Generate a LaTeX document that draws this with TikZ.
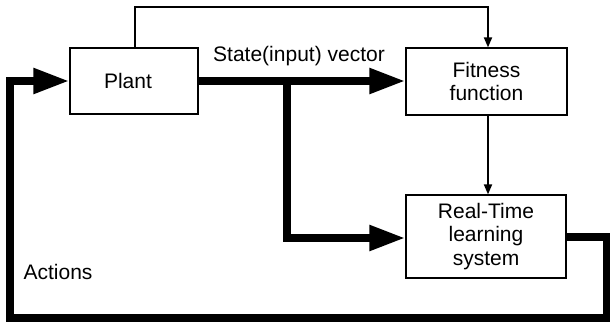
\documentclass[tikz,border=0pt]{standalone}
\usepackage{fontspec}
\setmainfont{Liberation Sans}
\usetikzlibrary{arrows.meta}
\begin{document}
\begin{tikzpicture}[x=1pt,y=-1pt,
  block/.style={draw,line width=1.2pt,rectangle,inner sep=0pt,align=center,
    font=\fontsize{21}{23.5}\selectfont},
  label/.style={font=\fontsize{21}{23.5}\selectfont,inner sep=0pt},
  thin/.style={line width=1.8pt,-{Triangle[length=10pt,width=8pt]}},
  thick/.style={line width=8pt,miter limit=10},
  bigtip/.style={-{Triangle[length=36pt,width=24pt]}}]
\useasboundingbox (0,0) rectangle (610,324);
\node[block,minimum width=128pt,minimum height=66pt] (plant) at (134,81) {Plant\hspace{12pt}};
\node[block,minimum width=161pt,minimum height=67pt] (fit) at (486.5,81.5) {Fitness\\function};
\node[block,minimum width=160pt,minimum height=83pt] (rt) at (486,236.5) {Real-Time\\learning\\system};
\node[label] (sv) at (299,56) {State(input) vector};
\node[label] (act) at (58,272) {Actions};
% thin signal lines
\coordinate (top1) at (135,7);
\coordinate (top2) at (488,7);
\draw[thin] (plant.north -| top1) -- (top1) -- (top2) -- (top2 |- fit.north);
\draw[thin] (fit.south -| top2) -- (top2 |- rt.north);
% thick state vector lines
\coordinate (br) at (287,81);
\coordinate (brlow) at (287,238);
\draw[thick,bigtip] (plant.east |- br) -- (br -| fit.west);
\draw[thick,bigtip] (br) -- (brlow) -- (brlow -| rt.west);
% action feedback loop
\coordinate (o1) at (607,237);
\coordinate (o2) at (607,318);
\coordinate (o3) at (10,318);
\coordinate (o4) at (10,81);
\draw[thick,bigtip] (rt.east |- o1) -- (o1) -- (o2) -- (o3) -- (o4) -- (o4 -| plant.west);
\end{tikzpicture}
\end{document}
